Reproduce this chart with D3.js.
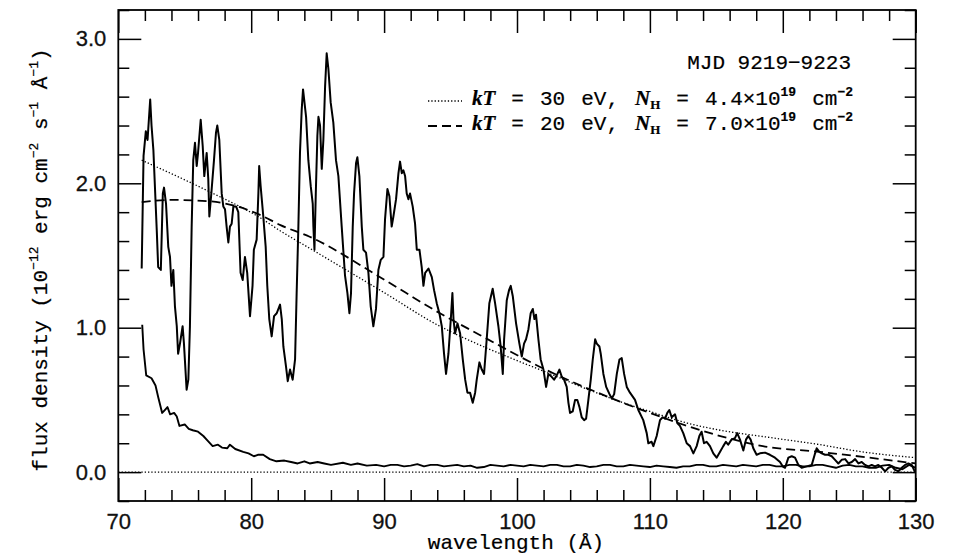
<!DOCTYPE html>
<html>
<head>
<meta charset="utf-8">
<script src="https://cdn.jsdelivr.net/npm/d3@7"></script>
<style>
  body { margin: 0; background: #fff; }
  svg { display: block; }
</style>
</head>
<body>
<svg width="955" height="555"></svg>
<script>
// observed spectrum [wavelength (A), flux]
const spectrum = [
  [71.76,1.41],[71.9,2.19],[72.07,2.36],[72.2,2.30],[72.4,2.58],[72.5,2.40],[72.64,2.23],[72.9,1.66],
  [73.0,1.42],[73.2,1.40],[73.35,1.93],[73.44,1.97],[73.59,1.86],[73.76,1.56],[73.89,1.49],[74.0,1.29],
  [74.14,1.40],[74.26,1.15],[74.4,1.01],[74.5,0.82],[74.64,0.89],[74.84,1.01],[74.94,0.89],[75.14,0.57],
  [75.27,0.64],[75.39,1.01],[75.52,1.70],[75.64,2.16],[75.77,2.28],[75.9,2.12],[76.0,2.21],[76.2,2.44],
  [76.35,2.26],[76.47,2.05],[76.65,2.21],[76.77,2.03],[76.85,1.77],[77.0,1.93],[77.2,2.16],[77.35,2.35],
  [77.45,2.40],[77.6,2.30],[77.78,1.93],[77.9,1.84],[78.03,1.82],[78.15,1.70],[78.28,1.59],[78.4,1.70],
  [78.53,1.72],[78.66,1.84],[78.86,1.84],[79.03,1.80],[79.2,1.38],[79.36,1.33],[79.53,1.49],[79.7,1.38],
  [79.91,1.08],[80.1,1.29],[80.2,1.54],[80.41,1.61],[80.54,1.93],[80.6,2.12],[80.71,1.98],[80.91,1.77],
  [81.09,1.56],[81.21,1.29],[81.36,1.06],[81.54,0.94],[81.72,1.08],[81.92,1.10],[82.17,1.16],[82.3,1.06],
  [82.42,0.87],[82.62,0.73],[82.75,0.63],[82.92,0.71],[83.12,0.64],[83.3,0.78],[83.42,1.24],[83.55,1.70],
  [83.67,2.21],[83.8,2.51],[83.9,2.65],[84.13,2.46],[84.3,2.16],[84.48,1.98],[84.63,1.86],[84.68,1.70],
  [84.76,1.54],[84.86,1.93],[84.98,2.33],[85.06,2.46],[85.18,2.40],[85.31,2.10],[85.43,2.30],[85.56,2.67],
  [85.68,2.90],[85.81,2.79],[85.98,2.56],[86.18,2.42],[86.38,2.16],[86.56,2.05],[86.81,1.70],[87.06,1.36],
  [87.24,1.24],[87.39,1.10],[87.51,1.24],[87.64,1.70],[87.74,1.93],[87.89,2.14],[87.99,2.18],[88.14,2.05],
  [88.32,1.70],[88.44,1.54],[88.64,1.52],[88.82,1.38],[88.99,1.15],[89.19,1.01],[89.39,1.13],[89.57,1.40],
  [89.75,1.47],[89.95,1.49],[90.07,1.75],[90.25,1.96],[90.4,1.91],[90.57,1.70],[90.7,1.77],[90.9,1.89],
  [91.08,2.07],[91.2,2.15],[91.33,2.07],[91.45,2.09],[91.58,2.05],[91.7,1.93],[91.83,1.89],[91.95,1.93],
  [92.15,1.84],[92.33,1.72],[92.46,1.54],[92.66,1.54],[92.83,1.42],[92.96,1.29],[93.09,1.38],[93.34,1.41],
  [93.59,1.35],[93.76,1.26],[93.96,1.17],[94.16,1.10],[94.34,1.01],[94.51,0.82],[94.66,0.68],[94.84,0.82],
  [95.02,1.06],[95.14,1.24],[95.22,1.06],[95.34,0.96],[95.52,1.03],[95.72,0.96],[95.92,0.78],[96.1,0.64],
  [96.27,0.55],[96.47,0.55],[96.67,0.48],[96.85,0.55],[96.97,0.64],[97.17,0.76],[97.35,0.71],[97.52,0.68],
  [97.72,0.92],[97.92,1.17],[98.17,1.27],[98.35,1.17],[98.6,1.01],[98.77,0.87],[98.93,0.68],[99.03,0.92],
  [99.23,1.19],[99.4,1.26],[99.53,1.29],[99.68,1.22],[99.93,1.03],[100.18,0.89],[100.36,0.80],[100.53,0.89],
  [100.68,0.92],[100.86,0.99],[101.03,1.10],[101.19,1.13],[101.31,1.06],[101.43,1.09],[101.61,0.92],[101.78,0.78],
  [101.99,0.71],[102.19,0.59],[102.36,0.68],[102.61,0.66],[102.79,0.64],[102.99,0.67],[103.19,0.71],[103.37,0.66],
  [103.54,0.64],[103.74,0.59],[103.87,0.48],[103.99,0.41],[104.19,0.42],[104.37,0.50],[104.54,0.50],[104.7,0.45],
  [104.87,0.38],[105.05,0.36],[105.2,0.37],[105.37,0.50],[105.55,0.64],[105.7,0.78],[105.88,0.92],[106.0,0.89],
  [106.2,0.87],[106.3,0.82],[106.5,0.68],[106.71,0.59],[106.96,0.54],[107.13,0.51],[107.31,0.54],[107.51,0.68],
  [107.71,0.78],[107.88,0.79],[108.06,0.68],[108.26,0.59],[108.5,0.55],[108.88,0.50],[109.13,0.43],[109.5,0.36],
  [109.76,0.27],[109.88,0.20],[110.13,0.21],[110.26,0.18],[110.51,0.25],[110.76,0.36],[110.96,0.38],[111.14,0.37],
  [111.31,0.41],[111.46,0.43],[111.64,0.38],[111.89,0.40],[112.06,0.34],[112.26,0.32],[112.51,0.27],[112.77,0.20],
  [113.02,0.18],[113.27,0.13],[113.52,0.18],[113.72,0.25],[113.89,0.28],[114.07,0.20],[114.27,0.21],[114.52,0.18],
  [114.77,0.13],[115.02,0.10],[115.27,0.14],[115.52,0.18],[115.72,0.21],[115.89,0.19],[116.14,0.225],[116.4,0.235],
  [116.57,0.27],[116.78,0.225],[117.03,0.15],[117.23,0.225],[117.4,0.25],[117.58,0.225],[117.78,0.165],[118.03,0.12],
  [118.28,0.13],[118.66,0.135],[119.03,0.12],[119.41,0.10],[119.79,0.07],[119.99,0.04],[120.17,0.03],[120.42,0.10],
  [120.67,0.11],[120.92,0.10],[121.17,0.05],[121.42,0.03],[121.8,0.04],[122.18,0.05],[122.43,0.13],[122.55,0.165],
  [122.75,0.14],[122.93,0.13],[123.18,0.12],[123.43,0.12],[123.68,0.11],[123.93,0.085],[124.18,0.06],[124.43,0.085],
  [124.69,0.09],[124.94,0.06],[125.19,0.07],[125.44,0.09],[125.69,0.06],[125.94,0.07],[126.19,0.05],[126.44,0.04],
  [126.69,0.05],[126.94,0.04],[127.19,0.05],[127.45,0.03],[127.7,0.005],[127.95,0.03],[128.2,0.04],[128.45,0.015],
  [128.7,0.005],[128.95,0.03],[129.2,0.05],[129.45,0.06],[129.7,0.05],[129.95,0.0]
];

// error / background curve
const errorCurve = [
  [71.8,1.02],[71.9,0.85],[72.1,0.67],[72.5,0.65],[72.8,0.60],[73.0,0.52],[73.3,0.41],[73.5,0.43],
  [73.7,0.45],[73.9,0.40],[74.2,0.41],[74.4,0.385],[74.6,0.32],[75.0,0.33],[75.3,0.30],[75.6,0.29],
  [76.0,0.28],[76.4,0.25],[76.7,0.22],[77.1,0.18],[77.5,0.19],[77.8,0.17],[78.2,0.165],[78.4,0.19],
  [78.8,0.16],[79.4,0.14],[79.8,0.13],[80.2,0.11],[80.5,0.12],[80.9,0.12],[81.4,0.09],[81.9,0.075],
  [82.5,0.08],[83.0,0.07],[83.5,0.06],[84.0,0.075],[84.4,0.06],[85.0,0.07],[85.5,0.06],[86.0,0.05],
  [86.9,0.065],[87.5,0.05],[88.0,0.06],[88.7,0.045],[89.4,0.05],[90.0,0.04],[90.5,0.05],[91.0,0.05],
  [91.5,0.04],[92.0,0.045],[92.5,0.055],[93.0,0.04],[93.5,0.05],[94.0,0.05],[94.5,0.04],[95.0,0.045],
  [95.5,0.05],[96.0,0.04],[96.5,0.045],[97.0,0.03],[97.5,0.035],[98.0,0.05],[98.5,0.045],[99.0,0.04],
  [99.5,0.05],[100.0,0.045],[100.5,0.04],[101.0,0.05],[101.5,0.045],[102.0,0.04],[102.5,0.05],[103.0,0.05],
  [103.5,0.04],[104.0,0.04],[104.5,0.05],[105.0,0.045],[105.5,0.035],[106.0,0.04],[106.5,0.05],[107.0,0.05],
  [107.5,0.04],[108.0,0.04],[108.5,0.05],[109.0,0.045],[109.5,0.04],[110.0,0.035],[110.5,0.045],[111.0,0.04],
  [111.5,0.035],[112.0,0.03],[112.5,0.04],[113.0,0.04],[113.5,0.05],[114.0,0.05],[114.5,0.04],[115.0,0.04],
  [115.5,0.05],[116.0,0.045],[116.5,0.04],[117.0,0.05],[117.5,0.045],[118.0,0.04],[118.5,0.05],[119.0,0.05],
  [119.5,0.04],[120.0,0.04],[120.5,0.05],[121.0,0.05],[121.5,0.04],[122.0,0.04],[122.5,0.05],[123.0,0.05],
  [123.5,0.04],[124.0,0.03],[124.5,0.045],[125.0,0.05],[125.5,0.04],[126.0,0.04],[126.5,0.03],[127.0,0.03],
  [127.5,0.045],[128.0,0.05],[128.5,0.03],[129.0,0.02],[129.5,0.05],[130.0,0.03]
];

// blackbody models
const model30 = [
  [71.76,2.16],[76.9,1.94],[80.7,1.76],[82.2,1.67],[84.4,1.55],[89.7,1.26],[94.2,1.01],[97.2,0.88],
  [101.7,0.71],[107.7,0.49],[110.0,0.42],[112.8,0.34],[115.3,0.29],[119.0,0.24],[122.8,0.19],[126.0,0.14],[130.0,0.10]
];
const model20 = [
  [71.76,1.87],[74.0,1.885],[76.9,1.875],[80.7,1.78],[82.2,1.71],[84.4,1.63],[89.7,1.35],[94.2,1.10],
  [97.2,0.95],[101.7,0.73],[107.7,0.49],[110.0,0.41],[112.8,0.32],[115.3,0.25],[118.5,0.18],[122.8,0.14],[130.0,0.06]
];

const xMajor = [70, 80, 90, 100, 110, 120, 130];
const yMajor = [0, 1, 2, 3];
const legendRows = [
  { kt: '30', nh: '4.4', dash: '1.3,2' },
  { kt: '20', nh: '7.0', dash: '9,5' }
];

const svg = d3.select('svg');
const x = d3.scaleLinear().domain([70, 130]).range([118.3, 915.7]);
const y = d3.scaleLinear().domain([-0.2, 3.2]).range([501, 10]);

const xMinor = d3.range(70, 130.01, 2).filter(v => !xMajor.includes(v));
const yMinor = d3.range(-0.2, 3.21, 0.2).map(v => +v.toFixed(1)).filter(v => !yMajor.includes(v));

function drawAxis(gen, tf, vals, size, labels) {
  const g = svg.append('g').attr('transform', tf)
    .call(gen.tickValues(vals).tickSize(-size).tickPadding(labels ? 12 : 0)
      .tickFormat(labels || (() => '')));
  g.select('.domain').remove();
  g.selectAll('line').attr('stroke', '#000').attr('stroke-width', 1.5);
  g.selectAll('text').attr('fill', '#111').attr('stroke', '#111').attr('stroke-width', 0.3)
    .style('font-family', '"Liberation Sans", Arial, sans-serif').style('font-size', '22px');
  return g;
}

drawAxis(d3.axisBottom(x), 'translate(0,501)', xMajor, 23, d3.format('d'));
drawAxis(d3.axisBottom(x), 'translate(0,501)', xMinor, 11);
drawAxis(d3.axisTop(x), 'translate(0,10)', xMajor, 23);
drawAxis(d3.axisTop(x), 'translate(0,10)', xMinor, 11);
drawAxis(d3.axisLeft(y), 'translate(118.3,0)', yMajor, 23, d3.format('.1f'));
drawAxis(d3.axisLeft(y), 'translate(118.3,0)', yMinor, 11);
drawAxis(d3.axisRight(y), 'translate(915.7,0)', yMajor, 23);
drawAxis(d3.axisRight(y), 'translate(915.7,0)', yMinor, 11);

svg.append('rect')
  .attr('x', x(70)).attr('y', y(3.2))
  .attr('width', x(130) - x(70)).attr('height', y(-0.2) - y(3.2))
  .attr('fill', 'none').attr('stroke', '#000').attr('stroke-width', 1.8);

const line = d3.line().x(d => x(d[0])).y(d => y(d[1]));

// zero level
svg.append('path').datum([[70, 0], [130, 0]])
  .attr('d', line).attr('fill', 'none').attr('stroke', '#000')
  .attr('stroke-width', 1.3).attr('stroke-dasharray', '1.3,2');

svg.append('path').datum(model30)
  .attr('d', line.curve(d3.curveMonotoneX)).attr('fill', 'none').attr('stroke', '#000')
  .attr('stroke-width', 1.3).attr('stroke-dasharray', '1.3,2');

svg.append('path').datum(model20)
  .attr('d', line.curve(d3.curveMonotoneX)).attr('fill', 'none').attr('stroke', '#000')
  .attr('stroke-width', 1.8).attr('stroke-dasharray', '9,5');

line.curve(d3.curveLinear);

svg.append('path').datum(errorCurve)
  .attr('d', line).attr('fill', 'none').attr('stroke', '#000')
  .attr('stroke-width', 1.9).attr('stroke-linejoin', 'round');

svg.append('path').datum(spectrum)
  .attr('d', line).attr('fill', 'none').attr('stroke', '#000')
  .attr('stroke-width', 2).attr('stroke-linejoin', 'round');

// axis titles
const mono = '"Liberation Mono", "Courier New", monospace';
const serif = '"Liberation Serif", "Times New Roman", serif';

svg.append('text')
  .attr('x', 516).attr('y', 549).attr('text-anchor', 'middle')
  .style('font-family', mono).style('font-size', '21px')
  .attr('stroke', '#000').attr('stroke-width', 0.2)
  .text('wavelength (\u00c5)');

const yt = svg.append('text')
  .attr('transform', 'translate(47,260) rotate(-90)')
  .attr('text-anchor', 'middle')
  .style('font-family', mono).style('font-size', '21px').style('white-space', 'pre')
  .attr('stroke', '#000').attr('stroke-width', 0.2);
[['flux density (10', 0, 21], ['\u221212', -9, 13], [' erg cm', 9, 21], ['\u22122', -9, 13],
 [' s', 9, 21], ['\u22121', -9, 13], [' \u00c5', 9, 21], ['\u22121', -9, 13], [')', 9, 21]]
  .forEach(([t, dy, fs]) => yt.append('tspan').attr('dy', dy).style('font-size', fs + 'px').text(t));

// legend
svg.append('text')
  .attr('x', 851).attr('y', 69).attr('text-anchor', 'end')
  .style('font-family', mono).style('font-size', '21px')
  .attr('stroke', '#000').attr('stroke-width', 0.2)
  .text('MJD 9219\u22129223');

legendRows.forEach((r, i) => {
  const yb = 105 + i * 25;
  svg.append('line')
    .attr('x1', 428).attr('x2', 462).attr('y1', yb - 4).attr('y2', yb - 4)
    .attr('stroke', '#000').attr('stroke-width', i === 0 ? 1.3 : 1.8)
    .attr('stroke-dasharray', r.dash);
  const t = svg.append('text').attr('x', 472).attr('y', yb)
    .style('white-space', 'pre').attr('stroke', '#000').attr('stroke-width', 0.2);
  const parts = [
    ['kT', 0, 21, serif, 'bold', 'italic'],
    [' = ' + r.kt + ' eV, ', 0, 21, mono, 'normal', 'normal'],
    ['N', 0, 21, serif, 'bold', 'italic'],
    ['H', 4, 13, serif, 'bold', 'normal'],
    [' = ' + r.nh + '\u00d710', -4, 21, mono, 'normal', 'normal'],
    ['19', -9, 13, mono, 'bold', 'normal'],
    [' cm', 9, 21, mono, 'normal', 'normal'],
    ['\u22122', -9, 13, mono, 'bold', 'normal']
  ];
  parts.forEach(([txt, dy, fs, ff, fw, fst]) => {
    t.append('tspan').attr('dy', dy)
      .style('font-size', fs + 'px').style('font-family', ff)
      .style('font-weight', fw).style('font-style', fst)
      .text(txt);
  });
  // stretch the spaces so the row ends where the reference row ends
  const w = t.node().getComputedTextLength();
  t.style('word-spacing', ((853 - 472 - w) / 7) + 'px');
});
</script>
</body>
</html>
